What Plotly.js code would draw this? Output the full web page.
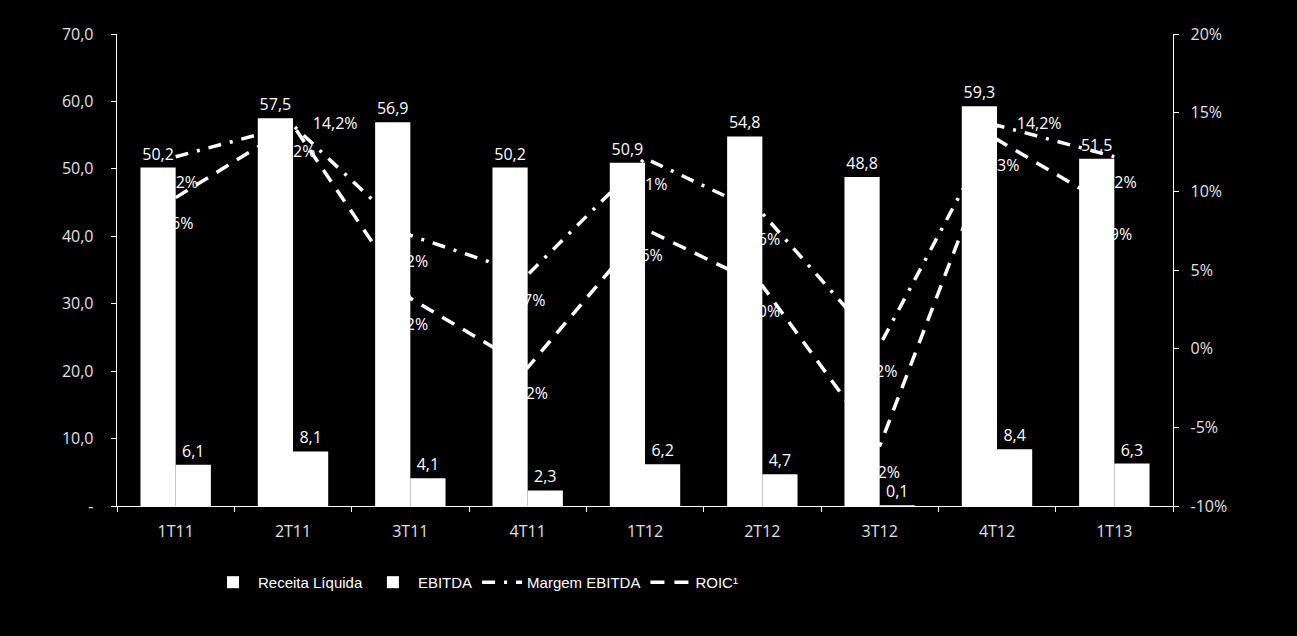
<!DOCTYPE html>
<html>
<head>
<meta charset="utf-8">
<script src="https://cdn.plot.ly/plotly-3.0.1.min.js"></script>
<style>
html,body{margin:0;padding:0;background:#000;}
#chart{width:1297px;height:636px;}
</style>
</head>
<body>
<div id="chart"></div>
<script>
const categories = ['1T11','2T11','3T11','4T11','1T12','2T12','3T12','4T12','1T13'];
const receitaLiquida = [50.2, 57.5, 56.9, 50.2, 50.9, 54.8, 48.8, 59.3, 51.5];
const ebitda = [6.1, 8.1, 4.1, 2.3, 6.2, 4.7, 0.1, 8.4, 6.3];
const margemEbitda = [12.2, 14.2, 7.2, 4.7, 12.1, 8.6, 0.2, 14.2, 12.2];
const roic = [9.6, 14.2, 3.2, -1.2, 7.6, 4.0, -6.2, 13.3, 8.9];
const leftTickVals = [0, 10, 20, 30, 40, 50, 60, 70];
const leftTickText = ['-', '10,0', '20,0', '30,0', '40,0', '50,0', '60,0', '70,0'];
const rightTickVals = [-10, -5, 0, 5, 10, 15, 20];
const rightTickText = ['-10%', '-5%', '0%', '5%', '10%', '15%', '20%'];

const fmt1 = v => v.toFixed(1).replace('.', ',');
const fmtPct = v => v.toFixed(1).replace('.', ',') + '%';

const labelFont = {family: 'Open Sans, sans-serif', size: 16, color: '#ffffff'};
const tickFont = {family: 'Open Sans, sans-serif', size: 16, color: '#e0e0e0'};

const margemPos = categories.map((c, i) => (i === 1 || i === 7) ? 'middle right' : 'bottom center');

const data = [
  {
    type: 'bar', name: 'Receita Líquida', x: categories, y: receitaLiquida,
    yaxis: 'y2', marker: {color: '#ffffff', line: {width: 0}},
    text: receitaLiquida.map(fmt1), textposition: 'outside', cliponaxis: false,
    constraintext: 'none', textfont: labelFont, hoverinfo: 'skip'
  },
  {
    type: 'bar', name: 'EBITDA', x: categories, y: ebitda,
    yaxis: 'y2', marker: {color: '#ffffff', line: {width: 0}},
    text: ebitda.map(fmt1), textposition: 'outside', cliponaxis: false,
    constraintext: 'none', textfont: labelFont, hoverinfo: 'skip'
  },
  {
    type: 'scatter', name: 'Margem EBITDA', x: categories, y: margemEbitda,
    yaxis: 'y', mode: 'lines+markers+text',
    line: {color: '#ffffff', width: 3.5, dash: '13px,9px,3px,9px'},
    marker: {size: 30, color: 'rgba(0,0,0,0)'},
    text: margemEbitda.map(fmtPct), textposition: margemPos,
    textfont: labelFont, cliponaxis: false, hoverinfo: 'skip'
  },
  {
    type: 'scatter', name: 'ROIC¹', x: categories, y: roic,
    yaxis: 'y', mode: 'lines+markers+text',
    line: {color: '#ffffff', width: 3.5, dash: '14px,10px'},
    marker: {size: 30, color: 'rgba(0,0,0,0)'},
    text: roic.map(fmtPct), textposition: 'bottom center',
    textfont: labelFont, cliponaxis: false, hoverinfo: 'skip'
  }
];

const layout = {
  width: 1297, height: 636,
  paper_bgcolor: '#000000', plot_bgcolor: '#000000',
  margin: {l: 117, r: 124, t: 34, b: 130},
  barmode: 'group', bargap: 0.4, bargroupgap: 0,
  showlegend: true,
  legend: {
    orientation: 'h', x: (208 - 117) / (1297 - 117 - 124), xanchor: 'left',
    y: -0.127, yanchor: 'top',
    font: {family: 'Liberation Sans, sans-serif', size: 15, color: '#ffffff'},
    bgcolor: 'rgba(0,0,0,0)', traceorder: 'normal', itemwidth: 40
  },
  xaxis: {
    type: 'category', range: [-0.5, 8.5], autorange: false,
    showgrid: false, zeroline: false,
    showline: true, linecolor: '#ffffff', linewidth: 1.3,
    ticks: 'outside', tickson: 'boundaries', ticklen: 5, tickcolor: '#ffffff',
    ticklabelstandoff: 10,
    tickfont: tickFont, fixedrange: true
  },
  yaxis: {
    side: 'right', range: [-10, 20], showgrid: false, zeroline: false,
    showline: true, linecolor: '#ffffff', linewidth: 1.3,
    ticks: 'outside', ticklen: 5, tickcolor: '#ffffff',
    ticklabelstandoff: 8,
    tickvals: rightTickVals, ticktext: rightTickText, tickfont: tickFont,
    fixedrange: true
  },
  yaxis2: {
    overlaying: 'y', side: 'left', range: [0, 70], showgrid: false, zeroline: false,
    showline: true, linecolor: '#ffffff', linewidth: 1.3,
    ticks: 'outside', ticklen: 5, tickcolor: '#ffffff',
    ticklabelstandoff: 14,
    tickvals: leftTickVals, ticktext: leftTickText, tickfont: tickFont,
    fixedrange: true
  },
  font: {family: 'Open Sans, sans-serif', color: '#ffffff'}
};

Plotly.newPlot('chart', data, layout, {displayModeBar: false, staticPlot: true});
</script>
</body>
</html>
